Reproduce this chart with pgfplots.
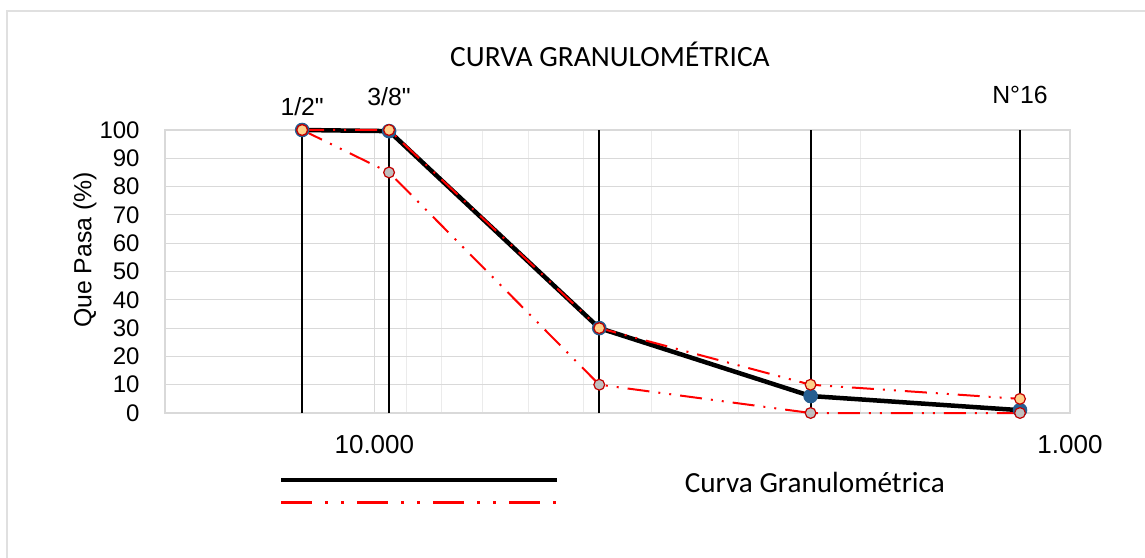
\documentclass[border=0pt]{standalone}
\usepackage{pgfplots}
\pgfplotsset{compat=1.18}
\usepackage{fontspec}
\setmainfont{Liberation Sans}[Ligatures=TeXOff]
\newfontfamily\calibri{Carlito}
\definecolor{gridc}{HTML}{D9D9D9}
\definecolor{minorc}{HTML}{EBEBEB}
\definecolor{mblue}{HTML}{265E91}
\definecolor{peach}{HTML}{FFD08A}
\definecolor{mgray}{HTML}{BFBFBF}
\definecolor{mred}{HTML}{C00000}
\definecolor{framec}{HTML}{E0E0E0}
\begin{document}
\begin{tikzpicture}
\begin{axis}[name=ax,
 scale only axis, width=452.5pt, height=141.5pt,
 xmode=log, x dir=reverse, xmin=1, xmax=20, ymin=0, ymax=100,
 xtick={1,10}, xticklabels={1.000,10.000},
 minor xtick={2,3,4,5,6,7,8,9},
 ytick={0,10,...,100},
 xmajorgrids, xminorgrids, ymajorgrids,
 major grid style={draw=gridc, line width=0.6pt},
 minor grid style={draw=minorc, line width=0.6pt},
 axis line style={draw=gridc, line width=0.6pt},
 tick style={draw=none}, major tick length=0pt, minor tick length=0pt,
 /pgf/number format/assume math mode=true,
 yticklabel style={font=\fontsize{12}{13}\selectfont, anchor=east, inner sep=0pt, xshift=-12.5pt},
 xticklabel style={font=\fontsize{13}{15}\selectfont, anchor=center, inner sep=0pt, yshift=-16pt},
 ylabel={Que Pasa (\%)},
 ylabel style={font=\fontsize{12.4}{14}\selectfont, at={(axis description cs:-0.0884,0.576)}, anchor=center},
 xlabel={Curva Granulométrica},
 xlabel style={font=\calibri\fontsize{14.6}{16}\selectfont, at={(axis description cs:0.718,-0.244)}, anchor=center},
 title={CURVA GRANULOMÉTRICA},
 title style={font=\calibri\fontsize{14.7}{16}\selectfont, at={(axis description cs:0.4917,1.226)}, anchor=center},
 clip=false,
 legend image code/.code={\draw[#1] (0pt,0pt) -- (138pt,0pt);},
 legend style={at={(axis description cs:0.2818,-0.277)}, anchor=center, draw=none, fill=none, row sep=9.5pt, inner sep=0pt, nodes={inner sep=0pt}, column sep=0pt},
]
% vertical sieve lines
\addplot[forget plot, black, line width=1pt] coordinates {(12.7,0)(12.7,100)};
\addplot[forget plot, black, line width=1pt] coordinates {(9.525,0)(9.525,100)};
\addplot[forget plot, black, line width=1pt] coordinates {(4.75,0)(4.75,100)};
\addplot[forget plot, black, line width=1pt] coordinates {(2.36,0)(2.36,100)};
\addplot[forget plot, black, line width=1pt] coordinates {(1.18,0)(1.18,100)};
% gradation curve
\addplot[forget plot, black, line width=2.25pt, mark=*, mark size=3.4pt, mark options={fill=mblue, draw=mblue, line width=0.5pt}] coordinates {(12.7,100)(9.525,99.6)(4.75,30)(2.36,6)(1.18,1)};
% lower limit
\addplot[forget plot, red, line width=1pt, dash pattern=on 11pt off 4.5pt on 1pt off 4.5pt on 1pt off 4.5pt, mark=*, mark size=2.7pt, mark options={solid, fill=mgray, draw=mred, line width=0.6pt}] coordinates {(12.7,100)(9.525,85)(4.75,10)(2.36,0)(1.18,0)};
% upper limit
\addplot[forget plot, red, line width=1pt, dash pattern=on 11pt off 4.5pt on 1pt off 4.5pt on 1pt off 4.5pt, mark=*, mark size=2.7pt, mark options={solid, fill=peach, draw=mred, line width=0.6pt}] coordinates {(12.7,100)(9.525,100)(4.75,30)(2.36,10)(1.18,5)};
% sieve labels
\addplot[forget plot, draw=none, mark=none, nodes near coords, point meta=explicit symbolic, nodes near coords style={anchor=center, font=\fontsize{12.4}{14}\selectfont, yshift=11.5pt, inner sep=0pt}] coordinates {(12.7,100)[1/2\char34]};
\addplot[forget plot, draw=none, mark=none, nodes near coords, point meta=explicit symbolic, nodes near coords style={anchor=center, font=\fontsize{12.4}{14}\selectfont, yshift=16.5pt, inner sep=0pt}] coordinates {(9.525,100)[3/8\char34]};
\addplot[forget plot, draw=none, mark=none, nodes near coords, point meta=explicit symbolic, nodes near coords style={anchor=center, font=\fontsize{12.4}{14}\selectfont, yshift=17.5pt, inner sep=0pt}] coordinates {(1.18,100)[N°16]};
% legend
\addlegendimage{black, line width=2pt}
\addlegendentry{}
\addlegendimage{red, line width=1.5pt, dash pattern=on 15.5pt off 6.5pt on 1.5pt off 6.5pt on 1.5pt off 6.5pt}
\addlegendentry{}
\end{axis}
\pgfresetboundingbox
\path[use as bounding box] ([shift={(-82.5pt,-72pt)}]ax.south west) rectangle ([shift={(490pt,206.5pt)}]ax.south west);
\draw[framec, line width=1pt] ([shift={(-79pt,-80pt)}]ax.south west) -- ([shift={(-79pt,201pt)}]ax.south west) -- ([shift={(500pt,201pt)}]ax.south west);
\end{tikzpicture}
\end{document}
